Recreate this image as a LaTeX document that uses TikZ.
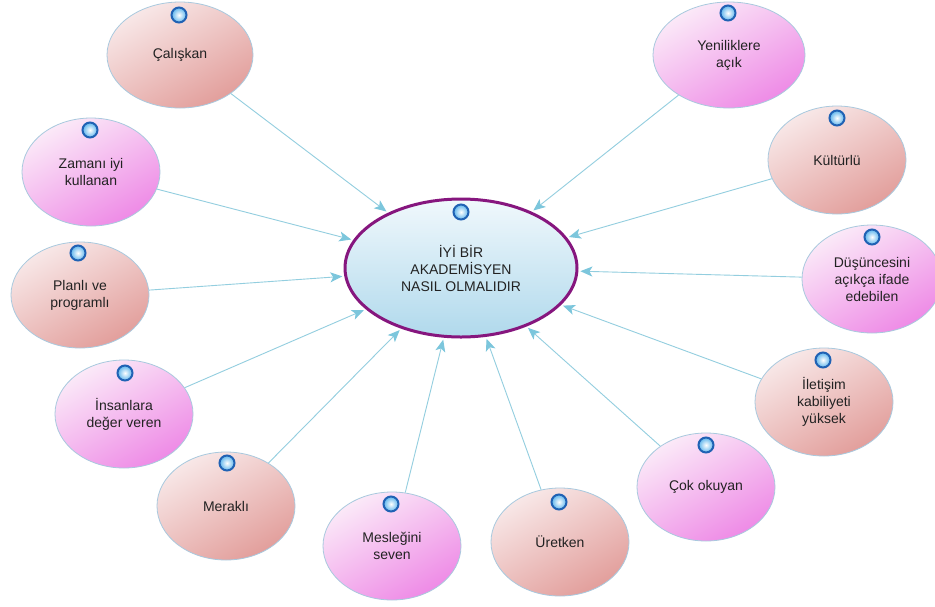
\documentclass[tikz,border=0pt]{standalone}
\usepackage{fontspec}
\setmainfont{Liberation Sans}
\usetikzlibrary{shapes.geometric,arrows.meta}
\definecolor{txt}{HTML}{222222}
\definecolor{rimc}{HTML}{A9C9DE}
\definecolor{roseA}{HTML}{F8E8E8}
\definecolor{roseB}{HTML}{E29E9B}
\definecolor{pinkA}{HTML}{FBEAF8}
\definecolor{pinkB}{HTML}{EE8AE6}
\definecolor{blueA}{HTML}{F0F8FC}
\definecolor{blueB}{HTML}{B0D9EC}
\definecolor{purp}{HTML}{86167E}
\definecolor{linec}{HTML}{93CEDF}
\definecolor{tipc}{HTML}{7CC6DC}
\definecolor{dotrim}{HTML}{2062B4}
\definecolor{dotin}{HTML}{FFFFFF}
\definecolor{dotout}{HTML}{5CB4EC}
\tikzset{
  every node/.style={font=\fontsize{14}{17}\selectfont, text=txt, align=center},
  leaf/.style={ellipse, inner sep=0pt, minimum width=138pt, minimum height=108pt, draw=rimc, line width=0.8pt},
  rosenode/.style={leaf, top color=roseA, bottom color=roseB, shading angle=30},
  pinknode/.style={leaf, top color=pinkA, bottom color=pinkB, shading angle=30},
  hub/.style={ellipse, inner sep=0pt, minimum width=232pt, minimum height=138pt, draw=purp, line width=3pt, top color=blueA, bottom color=blueB},
  bead/.style={circle, inner sep=0pt, minimum size=15pt, draw=dotrim, line width=2pt, inner color=dotin, outer color=dotout},
  link/.style={draw=linec, line width=0.9pt, shorten >=2pt, -{Stealth[length=12pt, width=10pt, inset=3pt, fill=tipc, color=tipc]}}
}
\begin{document}
\begin{tikzpicture}[x=1pt, y=-1pt]
\useasboundingbox (0,0) rectangle (935,606);
\fill[white] (0,0) rectangle (935,606);

\node[hub] (c) at (461,268) {İYİ BİR\\AKADEMİSYEN\\NASIL OLMALIDIR};
\node[bead] (dc) at (461,212) {};

\node[rosenode, minimum width=146pt, minimum height=106pt] (n1) at (180,55) {Çalışkan};
\node[pinknode] (n2) at (91,172) {Zamanı iyi\\kullanan};
\node[rosenode, minimum height=106pt] (n3) at (80,295) {Planlı ve\\programlı};
\node[pinknode] (n4) at (124,414) {İnsanlara\\değer veren};
\node[rosenode] (n5) at (226,506) {Meraklı};
\node[pinknode] (n6) at (392,546) {Mesleğini\\seven};
\node[rosenode] (n7) at (560,542) {Üretken};
\node[pinknode] (n8) at (706,487) {Çok okuyan};
\node[rosenode] (n9) at (824,402) {İletişim\\kabiliyeti\\yüksek};
\node[pinknode, minimum width=140pt] (n10) at (872,279) {Düşüncesini\\açıkça ifade\\edebilen};
\node[rosenode] (n11) at (837,160) {Kültürlü};
\node[pinknode, minimum width=152pt, minimum height=106pt] (n12) at (729,55) {Yeniliklere\\açık};

\node[bead] (d1) at (179,15) {};
\node[bead] (d2) at (90,130) {};
\node[bead] (d3) at (78,253) {};
\node[bead] (d4) at (125,373) {};
\node[bead] (d5) at (227,463) {};
\node[bead] (d6) at (391,504) {};
\node[bead] (d7) at (559,502) {};
\node[bead] (d8) at (706,445) {};
\node[bead] (d9) at (823,360) {};
\node[bead] (d10) at (872,237) {};
\node[bead] (d11) at (837,118) {};
\node[bead] (d12) at (728,13) {};

\foreach \k in {1,...,12} {
  \draw[link] (n\k) -- (c);
}
\end{tikzpicture}
\end{document}
